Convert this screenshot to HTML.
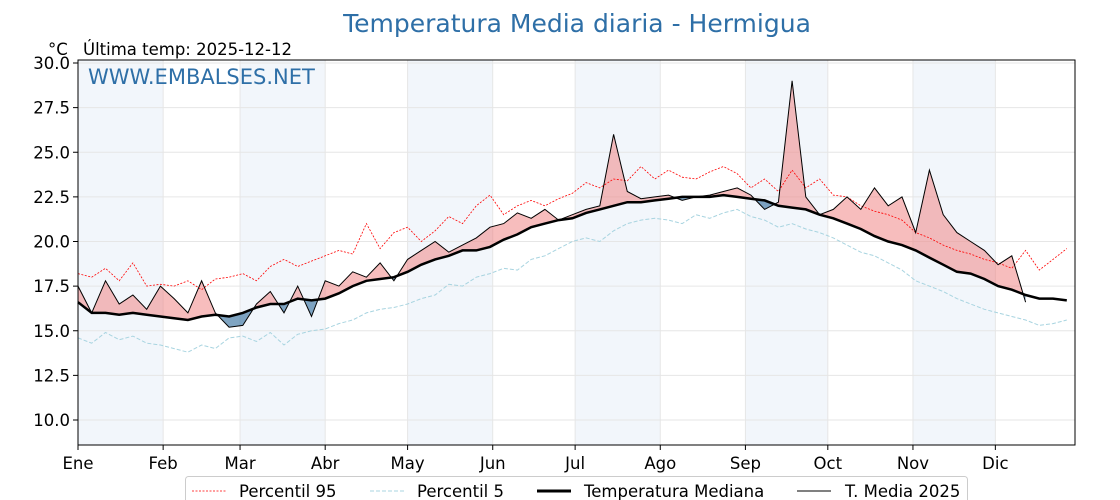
<!DOCTYPE html>
<html><head><meta charset="utf-8"><style>
body{margin:0;background:#fff;}
svg{display:block;font-family:"DejaVu Sans","Liberation Sans",sans-serif;}
</style></head><body>
<svg id="chart" width="1120" height="500" xmlns="http://www.w3.org/2000/svg">
<text x="577" y="32" text-anchor="middle" font-size="25" fill="#2e6fa7">Temperatura Media diaria - Hermigua</text>
<text x="48" y="55" font-size="16.5" fill="#000">°C</text>
<text x="83" y="55" font-size="16.5" fill="#000">Última temp: 2025-12-12</text>
<g id="bands"></g><g id="grid"></g><g id="series"></g>
<text x="88" y="84" font-size="21" fill="#2e6fa7">WWW.EMBALSES.NET</text>
<rect x="78" y="60" width="997" height="385" fill="none" stroke="#000" stroke-width="1"/>
<g id="axes"></g>
<g>
<rect x="185.5" y="476.5" width="782" height="30" fill="#fff" stroke="#ccc" rx="3"/>
<line x1="192" y1="491" x2="226" y2="491" stroke="red" stroke-width="0.8" stroke-dasharray="2,1.5"/>
<text x="239" y="497" font-size="16.5">Percentil 95</text>
<line x1="370" y1="491" x2="404" y2="491" stroke="#a8d4e0" stroke-width="1" stroke-dasharray="4,2"/>
<text x="417" y="497" font-size="16.5">Percentil 5</text>
<line x1="537" y1="491" x2="571" y2="491" stroke="#000" stroke-width="3"/>
<text x="584" y="497" font-size="16.5">Temperatura Mediana</text>
<line x1="797" y1="491" x2="831" y2="491" stroke="#000" stroke-width="1"/>
<text x="845" y="497" font-size="16.5">T. Media 2025</text>
</g>
</svg>
<script>
const months=["Ene","Feb","Mar","Abr","May","Jun","Jul","Ago","Sep","Oct","Nov","Dic"];
const monthStartDays=[0,31,59,90,120,151,181,212,243,273,304,334,365];
const yTicks=[10.0,12.5,15.0,17.5,20.0,22.5,25.0,27.5,30.0];
const stepDays=5;
const median=[16.6,16.0,16.0,15.9,16.0,15.9,15.8,15.7,15.6,15.8,15.9,15.8,16.0,16.3,16.5,16.5,16.8,16.7,16.8,17.1,17.5,17.8,17.9,18.0,18.3,18.7,19.0,19.2,19.5,19.5,19.7,20.1,20.4,20.8,21.0,21.2,21.3,21.6,21.8,22.0,22.2,22.2,22.3,22.4,22.5,22.5,22.5,22.6,22.5,22.4,22.3,22.0,21.9,21.8,21.5,21.3,21.0,20.7,20.3,20.0,19.8,19.5,19.1,18.7,18.3,18.2,17.9,17.5,17.3,17.0,16.8,16.8,16.7];
const p95=[18.2,18.0,18.5,17.8,18.8,17.5,17.6,17.5,17.8,17.3,17.9,18.0,18.2,17.8,18.6,19.0,18.6,18.9,19.2,19.5,19.3,21.0,19.6,20.5,20.8,20.0,20.6,21.4,21.0,22.0,22.6,21.5,22.0,22.3,22.0,22.4,22.7,23.3,23.0,23.5,23.4,24.2,23.5,24.0,23.6,23.5,23.9,24.2,23.8,23.0,23.5,22.8,24.0,23.0,23.5,22.6,22.5,22.0,21.7,21.5,21.2,20.5,20.2,19.8,19.5,19.3,19.0,18.8,18.5,19.5,18.4,19.0,19.6];
const p5=[14.6,14.3,14.9,14.5,14.7,14.3,14.2,14.0,13.8,14.2,14.0,14.6,14.7,14.4,14.9,14.2,14.8,15.0,15.1,15.4,15.6,16.0,16.2,16.3,16.5,16.8,17.0,17.6,17.5,18.0,18.2,18.5,18.4,19.0,19.2,19.6,20.0,20.2,20.0,20.6,21.0,21.2,21.3,21.2,21.0,21.5,21.3,21.6,21.8,21.4,21.2,20.8,21.0,20.7,20.5,20.2,19.8,19.4,19.2,18.8,18.4,17.8,17.5,17.2,16.8,16.5,16.2,16.0,15.8,15.6,15.3,15.4,15.6];
const t2025=[17.5,16.0,17.8,16.5,17.0,16.2,17.5,16.8,16.0,17.8,16.0,15.2,15.3,16.5,17.2,16.0,17.5,15.8,17.8,17.5,18.3,18.0,18.8,17.8,19.0,19.5,20.0,19.4,19.8,20.2,20.8,21.0,21.6,21.3,21.8,21.2,21.5,21.8,22.0,26.0,22.8,22.4,22.5,22.6,22.3,22.5,22.6,22.8,23.0,22.6,21.8,22.2,29.0,22.5,21.5,21.8,22.5,21.8,23.0,22.0,22.5,20.5,24.0,21.5,20.5,20.0,19.5,18.7,19.2,16.6];

const X0=78,X1=1075,Y0=60,Y1=445;
const x=d=>X0+d/363*(X1-X0);
const y=v=>420-(v-10)*17.85;
const NS="http://www.w3.org/2000/svg";
function mk(tag,attrs,parent){const e=document.createElementNS(NS,tag);for(const k in attrs)e.setAttribute(k,attrs[k]);parent.appendChild(e);return e;}
const bands=document.getElementById('bands'),grid=document.getElementById('grid'),series=document.getElementById('series'),axes=document.getElementById('axes');
for(let m=0;m<12;m+=2){
 const r=mk('rect',{x:x(monthStartDays[m]),y:Y0,width:x(monthStartDays[m+1])-x(monthStartDays[m]),height:Y1-Y0,fill:'#f2f6fb'},bands);
 
 
}
yTicks.forEach(v=>{
 const l=mk('line',{x1:X0,x2:X1,y1:y(v),y2:y(v),stroke:'#e6e6e6','stroke-width':1},grid);
 
 
 const t=mk('line',{x1:X0-5,x2:X0,y1:y(v),y2:y(v),stroke:'#000'},axes);
 
 
 const tx=mk('text',{x:X0-8,y:y(v)+6,'text-anchor':'end','font-size':16.5},axes);
 tx.textContent=v.toFixed(1);
 
 
});
months.forEach((m,i)=>{
 const d=monthStartDays[i];
 const g=mk('line',{x1:x(d),x2:x(d),y1:Y0,y2:Y1,stroke:'#e6e6e6'},grid);
 
 
 const t=mk('line',{x1:x(d),x2:x(d),y1:Y1,y2:Y1+5,stroke:'#000'},axes);
 
 
 const tx=mk('text',{x:x(d),y:Y1+24,'text-anchor':'middle','font-size':16.5},axes);
 tx.textContent=m;
 
 
});
const pts=a=>a.map((v,i)=>x(Math.min(i*stepDays,363)).toFixed(1)+','+y(v).toFixed(1));
const n=t2025.length;
const medSub=median.slice(0,n);
const area=pts(t2025).concat(pts(medSub).reverse()).join(' ');
const defs=mk('defs',{},series);
const medPts=pts(medSub);
const cpA=mk('clipPath',{id:'above'},defs);
mk('polygon',{points:[x(0)+','+Y0].concat(medPts).concat([x((n-1)*stepDays)+','+Y0]).join(' ')},cpA);
const cpB=mk('clipPath',{id:'below'},defs);
mk('polygon',{points:[x(0)+','+Y1].concat(medPts).concat([x((n-1)*stepDays)+','+Y1]).join(' ')},cpB);
const fa=mk('polygon',{points:area,fill:'#ef7b7b','fill-opacity':0.5,'clip-path':'url(#above)'},series);


const fb=mk('polygon',{points:area,fill:'#4a7fa8','fill-opacity':0.7,'clip-path':'url(#below)'},series);


const l95=mk('polyline',{points:pts(p95).join(' '),fill:'none',stroke:'red','stroke-width':0.8,'stroke-dasharray':'2,1.5'},series);


const l5=mk('polyline',{points:pts(p5).join(' '),fill:'none',stroke:'#a8d4e0','stroke-width':1,'stroke-dasharray':'4,2'},series);


const lm=mk('polyline',{points:pts(median).join(' '),fill:'none',stroke:'#000','stroke-width':2.5},series);


const l25=mk('polyline',{points:pts(t2025).join(' '),fill:'none',stroke:'#000','stroke-width':1},series);


</script>
</body></html>
